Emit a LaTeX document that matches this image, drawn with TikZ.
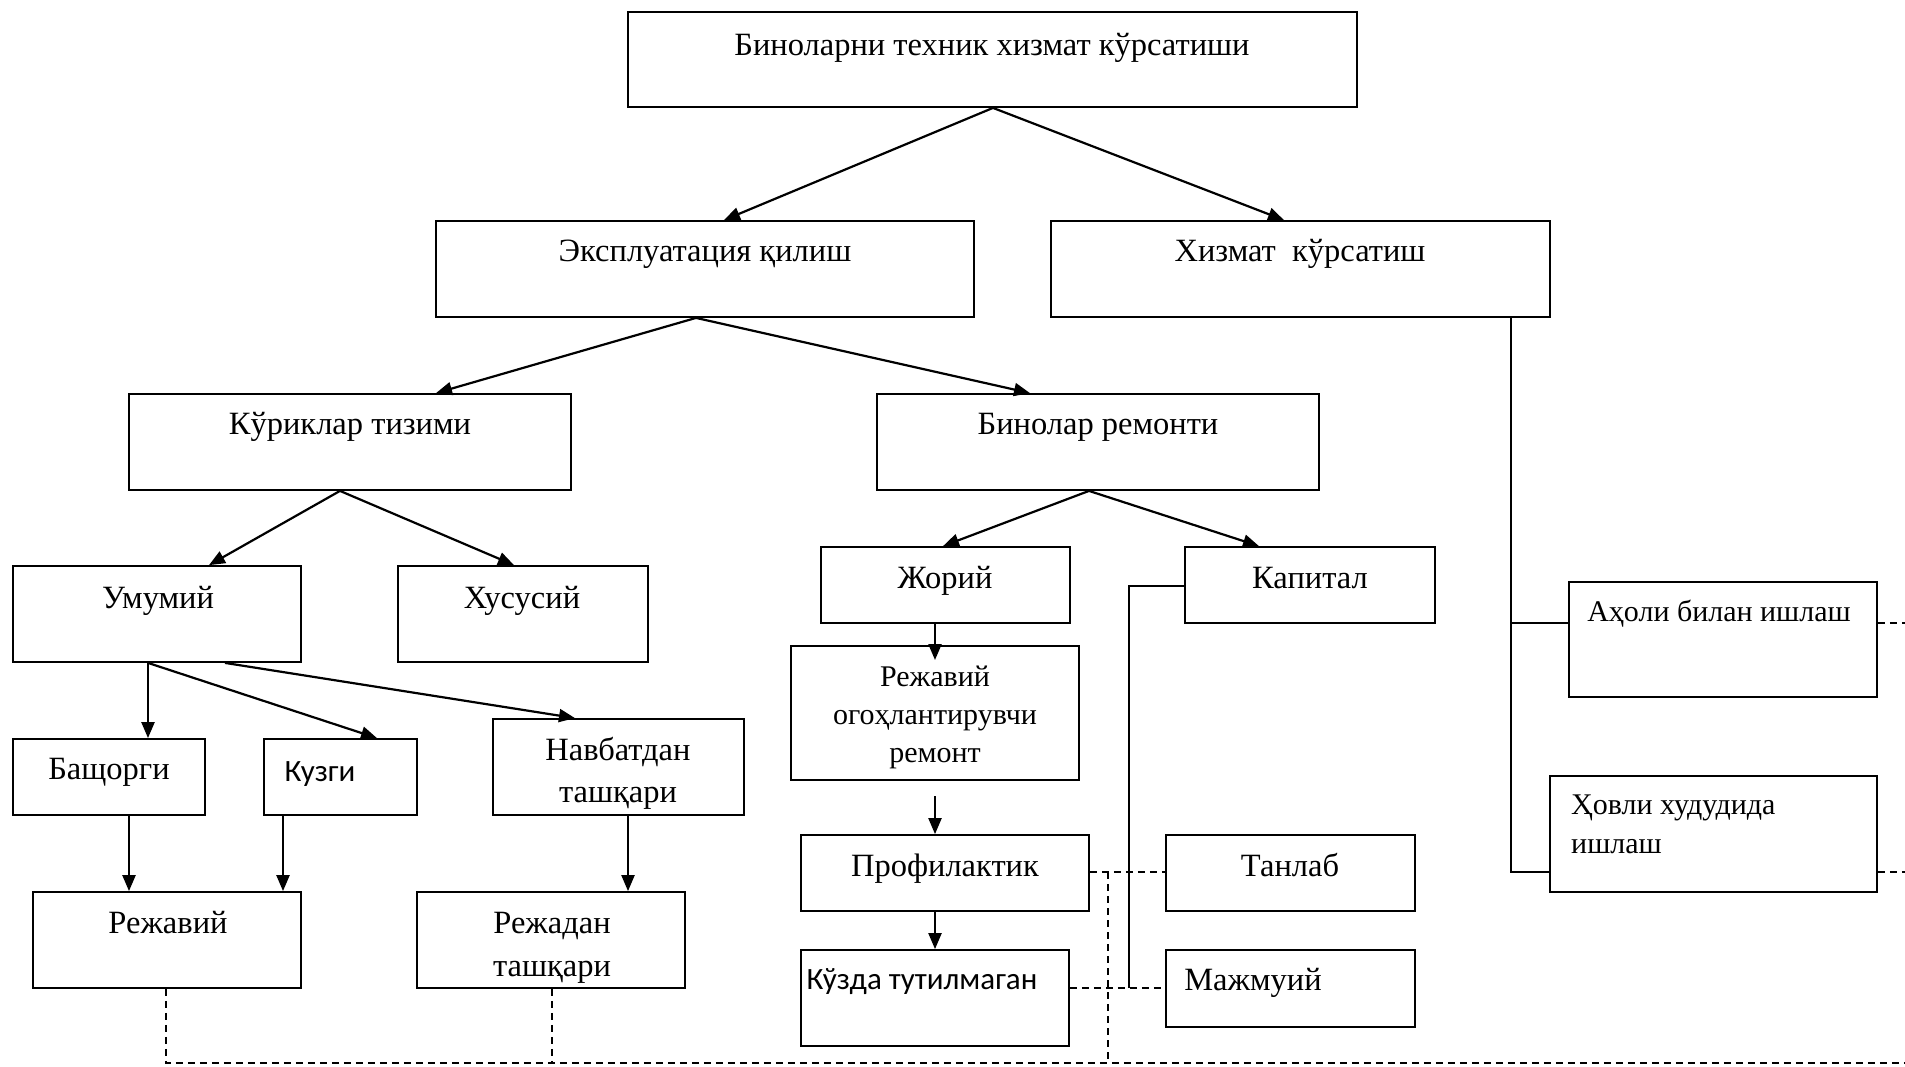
\documentclass[tikz,border=0pt]{standalone}
\usepackage{fontspec}
\setmainfont{Liberation Serif}
\newfontfamily\sansf{Carlito}
\usetikzlibrary{arrows.meta,fit}
\tikzset{
  bx/.style={draw, line width=1.8pt, inner sep=0pt},
  tx/.style={inner sep=0pt, anchor=base, font=\fontsize{32.5}{40}\selectfont},
  txs/.style={tx, font=\fontsize{30}{37}\selectfont},
  stx/.style={inner sep=0pt, anchor=base, font=\sansf\fontsize{31}{38}\selectfont},
  arr/.style={line width=2.2pt, -{Triangle[length=16pt,width=13pt]}},
  sol/.style={line width=2pt},
  dsh/.style={line width=1.6pt, dash pattern=on 7pt off 5pt},
}
\newcommand{\bxat}[5]{\path (#2,#3) coordinate (#1-nw) (#4,#5) coordinate (#1-se);
  \node[bx, fit=(#1-nw)(#1-se)] (#1) {};}
\begin{document}
\begin{tikzpicture}[x=1pt,y=-1pt]
\useasboundingbox[fill=white] (0,0) rectangle (1905,1066);
% boxes
\bxat{top}{628}{12}{1357}{107}
\bxat{expl}{436}{221}{974}{317}
\bxat{hiz}{1051}{221}{1550}{317}
\bxat{kur}{129}{394}{571}{490}
\bxat{bino}{877}{394}{1319}{490}
\bxat{umum}{13}{566}{301}{662}
\bxat{xus}{398}{566}{648}{662}
\bxat{jor}{821}{547}{1070}{623}
\bxat{kap}{1185}{547}{1435}{623}
\bxat{rog}{791}{646}{1079}{780}
\bxat{prof}{801}{835}{1089}{911}
\bxat{kuz}{801}{950}{1069}{1046}
\bxat{tan}{1166}{835}{1415}{911}
\bxat{maj}{1166}{950}{1415}{1027}
\bxat{aho}{1569}{582}{1877}{697}
\bxat{hov}{1550}{776}{1877}{892}
\bxat{bash}{13}{739}{205}{815}
\bxat{kuzg}{264}{739}{417}{815}
\bxat{navb}{493}{719}{744}{815}
\bxat{rej}{33}{892}{301}{988}
\bxat{rejd}{417}{892}{685}{988}
% texts
\node[tx] (t-top) at (992,55) {Биноларни техник хизмат кўрсатиши};
\node[tx] (t-expl) at (705,261) {Эксплуатация қилиш};
\node[tx] (t-hiz) at (1300,261) {Хизмат\ \ кўрсатиш};
\node[tx] (t-kur) at (350,434) {Кўриклар тизими};
\node[tx] (t-bino) at (1098,434) {Бинолар ремонти};
\node[tx] (t-umum) at (158,608) {Умумий};
\node[tx] (t-xus) at (522,608) {Хусусий};
\node[tx] (t-jor) at (945,588) {Жорий};
\node[tx] (t-kap) at (1310,588) {Капитал};
\node[txs] (t-rog1) at (935,686) {Режавий};
\node[txs] (t-rog2) at (935,724) {огоҳлантирувчи};
\node[txs] (t-rog3) at (935,762) {ремонт};
\node[tx] (t-prof) at (945,876) {Профилактик};
\node[stx] (t-kuz) at (922,989) {Кўзда тутилмаган};
\node[tx] (t-tan) at (1290,876) {Танлаб};
\node[tx] (t-maj) at (1253,990) {Мажмуий};
\node[txs] (t-aho) at (1719,621) {Аҳоли билан ишлаш};
\node[txs, anchor=base west] (t-hov1) at (1571,814) {Ҳовли худудида};
\node[txs, anchor=base west] (t-hov2) at (1571,853) {ишлаш};
\node[tx] (t-bash) at (109,779) {Бащорги};
\node[stx] (t-kuzg) at (320,781) {Кузги};
\node[tx] (t-navb1) at (618,760) {Навбатдан};
\node[tx] (t-navb2) at (618,802) {ташқари};
\node[tx] (t-rej) at (168,933) {Режавий};
\node[tx] (t-rejd1) at (552,933) {Режадан};
\node[tx] (t-rejd2) at (552,976) {ташқари};
% arrows
\draw[arr] (top.south -| 993,0) -- (expl.north -| 724,0);
\draw[arr] (top.south -| 993,0) -- (hiz.north -| 1284,0);
\draw[arr] (expl.south -| 696,0) -- (kur.north -| 436,0);
\draw[arr] (expl.south -| 696,0) -- (bino.north -| 1030,0);
\draw[arr] (kur.south -| 340,0) -- (umum.north -| 209,0);
\draw[arr] (kur.south -| 340,0) -- (xus.north -| 514,0);
\draw[arr] (bino.south -| 1089,0) -- (jor.north -| 943,0);
\draw[arr] (bino.south -| 1089,0) -- (kap.north -| 1259,0);
\draw[arr] (umum.south -| 148,0) -- (bash.north -| 148,0);
\draw[arr] (umum.south -| 148,0) -- (kuzg.north -| 377,0);
\draw[arr] (umum.south -| 225,0) -- (navb.north -| 575,0);
\draw[arr] (bash.south -| 129,0) -- (rej.north -| 129,0);
\draw[arr] (kuzg.south -| 283,0) -- (rej.north -| 283,0);
\draw[arr] (navb.south -| 628,0) -- (rejd.north -| 628,0);
\draw[arr] (jor.south -| 935,0) -- (935,660);
\coordinate (free) at (935,796);
\draw[arr] (free) -- (free |- prof.north);
\draw[arr] (prof.south -| 935,0) -- (kuz.north -| 935,0);
% capital line
\coordinate (kc) at (1129,586);
\draw[sol] (kap.west |- kc) -- (kc) -- (1129,988);
% dashed
\draw[dsh] (prof.east |- 0,872) -- (tan.west |- 0,872);
\draw[dsh] (kuz.east |- 0,988) -- (maj.west |- 0,988);
\draw[dsh] (1108,872) -- (1108,1063);
\draw[dsh] (rej.south -| 166,0) -- (166,1063) -- (1905,1063);
\draw[dsh] (rejd.south -| 552,0) -- (552,1063);
\draw[dsh] (aho.east |- 0,623) -- (1905,623);
\draw[dsh] (hov.east |- 0,872) -- (1905,872);
% right tree
\coordinate (hz) at (1511,317);
\draw[sol] (hiz.south -| hz) -- (1511,872) -- (hov.west |- 0,872);
\draw[sol] (1511,623) -- (aho.west |- 0,623);
\end{tikzpicture}
\end{document}
